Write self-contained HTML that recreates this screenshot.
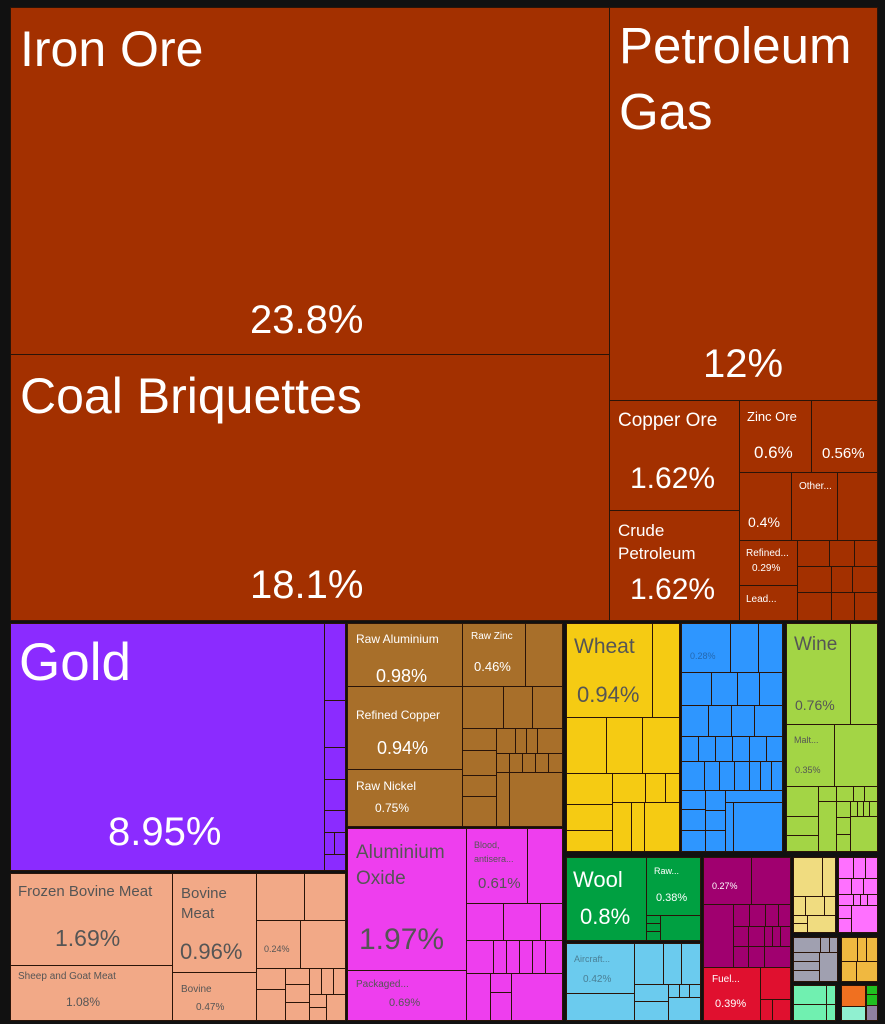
<!DOCTYPE html>
<html><head><meta charset="utf-8"><style>
body{margin:0;width:885px;height:1024px;background:#111;overflow:hidden;font-family:"Liberation Sans",sans-serif}
.r{position:absolute;box-sizing:border-box;border:1px solid #2a1408}
.t{position:absolute;white-space:nowrap;line-height:1}
.w{color:#fff}.g{color:#555}
</style></head><body>
<!-- top brown -->
<div class="r" style="left:10px;top:7px;width:600px;height:348px;background:#A33000"></div>
<div class="t w" style="left:20px;top:24px;font-size:50px">Iron Ore</div>
<div class="t w" style="left:250px;top:300px;font-size:40px">23.8%</div>
<div class="r" style="left:10px;top:354px;width:600px;height:267px;background:#A33000"></div>
<div class="t w" style="left:20px;top:371px;font-size:50px">Coal Briquettes</div>
<div class="t w" style="left:250px;top:565px;font-size:40px">18.1%</div>
<div class="r" style="left:609px;top:7px;width:269px;height:394px;background:#A33000"></div>
<div class="t w" style="left:619px;top:13px;font-size:51px;line-height:66px">Petroleum<br>Gas</div>
<div class="t w" style="left:703px;top:344px;font-size:40px">12%</div>
<div class="r" style="left:609px;top:400px;width:131px;height:111px;background:#A33000"></div>
<div class="t w" style="left:618px;top:411px;font-size:19px">Copper Ore</div>
<div class="t w" style="left:630px;top:464px;font-size:30px">1.62%</div>
<div class="r" style="left:609px;top:510px;width:131px;height:111px;background:#A33000"></div>
<div class="t w" style="left:618px;top:519px;font-size:17px;line-height:23px">Crude<br>Petroleum</div>
<div class="t w" style="left:630px;top:575px;font-size:30px">1.62%</div>
<div class="r" style="left:739px;top:400px;width:73px;height:73px;background:#A33000"></div>
<div class="t w" style="left:747px;top:410px;font-size:13px">Zinc Ore</div>
<div class="t w" style="left:754px;top:444px;font-size:17px">0.6%</div>
<div class="r" style="left:811px;top:400px;width:67px;height:73px;background:#A33000"></div>
<div class="t w" style="left:822px;top:446px;font-size:15px">0.56%</div>
<div class="r" style="left:739px;top:472px;width:53px;height:69px;background:#A33000"></div>
<div class="t w" style="left:748px;top:515px;font-size:14px">0.4%</div>
<div class="r" style="left:791px;top:472px;width:47px;height:69px;background:#A33000"></div>
<div class="t w" style="left:799px;top:482px;font-size:10px">Other...</div>
<div class="r" style="left:837px;top:472px;width:41px;height:69px;background:#A33000"></div>
<div class="r" style="left:739px;top:540px;width:59px;height:46px;background:#A33000"></div>
<div class="t w" style="left:746px;top:549px;font-size:10px">Refined...</div>
<div class="t w" style="left:752px;top:564px;font-size:10px">0.29%</div>
<div class="r" style="left:739px;top:585px;width:59px;height:36px;background:#A33000"></div>
<div class="t w" style="left:746px;top:595px;font-size:10px">Lead...</div>
<div class="r" style="left:797px;top:540px;width:33px;height:27px;background:#A33000"></div>
<div class="r" style="left:829px;top:540px;width:26px;height:27px;background:#A33000"></div>
<div class="r" style="left:854px;top:540px;width:24px;height:27px;background:#A33000"></div>
<div class="r" style="left:797px;top:566px;width:35px;height:27px;background:#A33000"></div>
<div class="r" style="left:831px;top:566px;width:22px;height:27px;background:#A33000"></div>
<div class="r" style="left:852px;top:566px;width:26px;height:27px;background:#A33000"></div>
<div class="r" style="left:797px;top:592px;width:35px;height:29px;background:#A33000"></div>
<div class="r" style="left:831px;top:592px;width:24px;height:29px;background:#A33000"></div>
<div class="r" style="left:854px;top:592px;width:24px;height:29px;background:#A33000"></div>
<!-- Gold -->
<div class="r" style="left:10px;top:623px;width:315px;height:248px;background:#8B2BFF"></div>
<div class="t w" style="left:19px;top:636px;font-size:53px">Gold</div>
<div class="t w" style="left:108px;top:812px;font-size:40px">8.95%</div>
<div class="r" style="left:324px;top:623px;width:22px;height:78px;background:#8B2BFF"></div>
<div class="r" style="left:324px;top:700px;width:22px;height:48px;background:#8B2BFF"></div>
<div class="r" style="left:324px;top:747px;width:22px;height:33px;background:#8B2BFF"></div>
<div class="r" style="left:324px;top:779px;width:22px;height:32px;background:#8B2BFF"></div>
<div class="r" style="left:324px;top:810px;width:22px;height:23px;background:#8B2BFF"></div>
<div class="r" style="left:324px;top:832px;width:11px;height:23px;background:#8B2BFF"></div>
<div class="r" style="left:334px;top:832px;width:12px;height:23px;background:#8B2BFF"></div>
<div class="r" style="left:324px;top:854px;width:22px;height:17px;background:#8B2BFF"></div>
<!-- Peach -->
<div class="r" style="left:10px;top:873px;width:163px;height:93px;background:#F2A987"></div>
<div class="t g" style="left:18px;top:884px;font-size:15px">Frozen Bovine Meat</div>
<div class="t g" style="left:55px;top:927px;font-size:23px">1.69%</div>
<div class="r" style="left:10px;top:965px;width:163px;height:56px;background:#F2A987"></div>
<div class="t g" style="left:18px;top:972px;font-size:10px">Sheep and Goat Meat</div>
<div class="t g" style="left:66px;top:996px;font-size:12px">1.08%</div>
<div class="r" style="left:172px;top:873px;width:85px;height:100px;background:#F2A987"></div>
<div class="t g" style="left:181px;top:884px;font-size:15px;line-height:20px">Bovine<br>Meat</div>
<div class="t g" style="left:180px;top:941px;font-size:22px">0.96%</div>
<div class="r" style="left:172px;top:972px;width:85px;height:49px;background:#F2A987"></div>
<div class="t g" style="left:181px;top:985px;font-size:10px">Bovine</div>
<div class="t g" style="left:196px;top:1003px;font-size:10px">0.47%</div>
<div class="r" style="left:256px;top:873px;width:49px;height:48px;background:#F2A987"></div>
<div class="r" style="left:304px;top:873px;width:42px;height:48px;background:#F2A987"></div>
<div class="r" style="left:256px;top:920px;width:45px;height:49px;background:#F2A987"></div>
<div class="t g" style="left:264px;top:945px;font-size:9px">0.24%</div>
<div class="r" style="left:300px;top:920px;width:46px;height:49px;background:#F2A987"></div>
<div class="r" style="left:256px;top:968px;width:30px;height:22px;background:#F2A987"></div>
<div class="r" style="left:256px;top:989px;width:30px;height:32px;background:#F2A987"></div>
<div class="r" style="left:285px;top:968px;width:25px;height:17px;background:#F2A987"></div>
<div class="r" style="left:285px;top:984px;width:25px;height:19px;background:#F2A987"></div>
<div class="r" style="left:285px;top:1002px;width:25px;height:19px;background:#F2A987"></div>
<div class="r" style="left:309px;top:968px;width:13px;height:27px;background:#F2A987"></div>
<div class="r" style="left:321px;top:968px;width:13px;height:27px;background:#F2A987"></div>
<div class="r" style="left:333px;top:968px;width:13px;height:27px;background:#F2A987"></div>
<div class="r" style="left:309px;top:994px;width:18px;height:14px;background:#F2A987"></div>
<div class="r" style="left:309px;top:1007px;width:18px;height:14px;background:#F2A987"></div>
<div class="r" style="left:326px;top:994px;width:20px;height:27px;background:#F2A987"></div>
<!-- Brown metals -->
<div class="r" style="left:347px;top:623px;width:116px;height:64px;background:#A86F2A"></div>
<div class="t w" style="left:356px;top:633px;font-size:12px">Raw Aluminium</div>
<div class="t w" style="left:376px;top:667px;font-size:18px">0.98%</div>
<div class="r" style="left:347px;top:686px;width:116px;height:84px;background:#A86F2A"></div>
<div class="t w" style="left:356px;top:709px;font-size:12px">Refined Copper</div>
<div class="t w" style="left:377px;top:739px;font-size:18px">0.94%</div>
<div class="r" style="left:347px;top:769px;width:116px;height:58px;background:#A86F2A"></div>
<div class="t w" style="left:356px;top:780px;font-size:12px">Raw Nickel</div>
<div class="t w" style="left:375px;top:802px;font-size:12px">0.75%</div>
<div class="r" style="left:462px;top:623px;width:64px;height:64px;background:#A86F2A"></div>
<div class="t w" style="left:471px;top:632px;font-size:10px">Raw Zinc</div>
<div class="t w" style="left:474px;top:660px;font-size:13px">0.46%</div>
<div class="r" style="left:525px;top:623px;width:38px;height:64px;background:#A86F2A"></div>
<div class="r" style="left:462px;top:686px;width:42px;height:43px;background:#A86F2A"></div>
<div class="r" style="left:503px;top:686px;width:30px;height:43px;background:#A86F2A"></div>
<div class="r" style="left:532px;top:686px;width:31px;height:43px;background:#A86F2A"></div>
<div class="r" style="left:462px;top:728px;width:35px;height:23px;background:#A86F2A"></div>
<div class="r" style="left:462px;top:750px;width:35px;height:26px;background:#A86F2A"></div>
<div class="r" style="left:462px;top:775px;width:35px;height:22px;background:#A86F2A"></div>
<div class="r" style="left:462px;top:796px;width:35px;height:31px;background:#A86F2A"></div>
<div class="r" style="left:496px;top:728px;width:20px;height:26px;background:#A86F2A"></div>
<div class="r" style="left:515px;top:728px;width:12px;height:26px;background:#A86F2A"></div>
<div class="r" style="left:526px;top:728px;width:12px;height:26px;background:#A86F2A"></div>
<div class="r" style="left:537px;top:728px;width:26px;height:26px;background:#A86F2A"></div>
<div class="r" style="left:496px;top:753px;width:14px;height:20px;background:#A86F2A"></div>
<div class="r" style="left:509px;top:753px;width:14px;height:20px;background:#A86F2A"></div>
<div class="r" style="left:522px;top:753px;width:14px;height:20px;background:#A86F2A"></div>
<div class="r" style="left:535px;top:753px;width:14px;height:20px;background:#A86F2A"></div>
<div class="r" style="left:548px;top:753px;width:15px;height:20px;background:#A86F2A"></div>
<div class="r" style="left:496px;top:772px;width:14px;height:55px;background:#A86F2A"></div>
<div class="r" style="left:509px;top:772px;width:54px;height:55px;background:#A86F2A"></div>
<!-- Magenta -->
<div class="r" style="left:347px;top:828px;width:120px;height:143px;background:#EE3EEE"></div>
<div class="t g" style="left:356px;top:840px;font-size:19px;line-height:26px">Aluminium<br>Oxide</div>
<div class="t g" style="left:359px;top:925px;font-size:30px">1.97%</div>
<div class="r" style="left:347px;top:970px;width:120px;height:51px;background:#EE3EEE"></div>
<div class="t g" style="left:356px;top:980px;font-size:10px">Packaged...</div>
<div class="t g" style="left:389px;top:998px;font-size:11px">0.69%</div>
<div class="r" style="left:466px;top:828px;width:62px;height:76px;background:#EE3EEE"></div>
<div class="t g" style="left:474px;top:838px;font-size:9px;line-height:14px">Blood,<br>antisera...</div>
<div class="t g" style="left:478px;top:876px;font-size:15px">0.61%</div>
<div class="r" style="left:527px;top:828px;width:36px;height:76px;background:#EE3EEE"></div>
<div class="r" style="left:466px;top:903px;width:38px;height:38px;background:#EE3EEE"></div>
<div class="r" style="left:503px;top:903px;width:38px;height:38px;background:#EE3EEE"></div>
<div class="r" style="left:540px;top:903px;width:23px;height:38px;background:#EE3EEE"></div>
<div class="r" style="left:466px;top:940px;width:28px;height:34px;background:#EE3EEE"></div>
<div class="r" style="left:493px;top:940px;width:14px;height:34px;background:#EE3EEE"></div>
<div class="r" style="left:506px;top:940px;width:14px;height:34px;background:#EE3EEE"></div>
<div class="r" style="left:519px;top:940px;width:14px;height:34px;background:#EE3EEE"></div>
<div class="r" style="left:532px;top:940px;width:14px;height:34px;background:#EE3EEE"></div>
<div class="r" style="left:545px;top:940px;width:18px;height:34px;background:#EE3EEE"></div>
<div class="r" style="left:466px;top:973px;width:25px;height:48px;background:#EE3EEE"></div>
<div class="r" style="left:490px;top:973px;width:22px;height:20px;background:#EE3EEE"></div>
<div class="r" style="left:490px;top:992px;width:22px;height:29px;background:#EE3EEE"></div>
<div class="r" style="left:511px;top:973px;width:52px;height:48px;background:#EE3EEE"></div>
<!-- Yellow -->
<div class="r" style="left:566px;top:623px;width:87px;height:95px;background:#F5CB13"></div>
<div class="t g" style="left:574px;top:636px;font-size:21px">Wheat</div>
<div class="t g" style="left:577px;top:684px;font-size:22px">0.94%</div>
<div class="r" style="left:652px;top:623px;width:28px;height:95px;background:#F5CB13"></div>
<div class="r" style="left:566px;top:717px;width:41px;height:57px;background:#F5CB13"></div>
<div class="r" style="left:606px;top:717px;width:37px;height:57px;background:#F5CB13"></div>
<div class="r" style="left:642px;top:717px;width:38px;height:57px;background:#F5CB13"></div>
<div class="r" style="left:566px;top:773px;width:47px;height:32px;background:#F5CB13"></div>
<div class="r" style="left:566px;top:804px;width:47px;height:27px;background:#F5CB13"></div>
<div class="r" style="left:566px;top:830px;width:47px;height:22px;background:#F5CB13"></div>
<div class="r" style="left:612px;top:773px;width:34px;height:30px;background:#F5CB13"></div>
<div class="r" style="left:645px;top:773px;width:21px;height:30px;background:#F5CB13"></div>
<div class="r" style="left:665px;top:773px;width:15px;height:30px;background:#F5CB13"></div>
<div class="r" style="left:612px;top:802px;width:20px;height:50px;background:#F5CB13"></div>
<div class="r" style="left:631px;top:802px;width:14px;height:50px;background:#F5CB13"></div>
<div class="r" style="left:644px;top:802px;width:36px;height:50px;background:#F5CB13"></div>
<!-- Blue -->
<div class="r" style="left:681px;top:623px;width:50px;height:50px;background:#2E96FF"></div>
<div class="t" style="left:690px;top:652px;font-size:9px;color:#2468b0">0.28%</div>
<div class="r" style="left:730px;top:623px;width:29px;height:50px;background:#2E96FF"></div>
<div class="r" style="left:758px;top:623px;width:25px;height:50px;background:#2E96FF"></div>
<div class="r" style="left:681px;top:672px;width:31px;height:34px;background:#2E96FF"></div>
<div class="r" style="left:711px;top:672px;width:27px;height:34px;background:#2E96FF"></div>
<div class="r" style="left:737px;top:672px;width:23px;height:34px;background:#2E96FF"></div>
<div class="r" style="left:759px;top:672px;width:24px;height:34px;background:#2E96FF"></div>
<div class="r" style="left:681px;top:705px;width:28px;height:32px;background:#2E96FF"></div>
<div class="r" style="left:708px;top:705px;width:24px;height:32px;background:#2E96FF"></div>
<div class="r" style="left:731px;top:705px;width:24px;height:32px;background:#2E96FF"></div>
<div class="r" style="left:754px;top:705px;width:29px;height:32px;background:#2E96FF"></div>
<div class="r" style="left:681px;top:736px;width:18px;height:26px;background:#2E96FF"></div>
<div class="r" style="left:698px;top:736px;width:18px;height:26px;background:#2E96FF"></div>
<div class="r" style="left:715px;top:736px;width:18px;height:26px;background:#2E96FF"></div>
<div class="r" style="left:732px;top:736px;width:18px;height:26px;background:#2E96FF"></div>
<div class="r" style="left:749px;top:736px;width:18px;height:26px;background:#2E96FF"></div>
<div class="r" style="left:766px;top:736px;width:17px;height:26px;background:#2E96FF"></div>
<div class="r" style="left:681px;top:761px;width:24px;height:30px;background:#2E96FF"></div>
<div class="r" style="left:704px;top:761px;width:16px;height:30px;background:#2E96FF"></div>
<div class="r" style="left:719px;top:761px;width:16px;height:30px;background:#2E96FF"></div>
<div class="r" style="left:734px;top:761px;width:16px;height:30px;background:#2E96FF"></div>
<div class="r" style="left:749px;top:761px;width:12px;height:30px;background:#2E96FF"></div>
<div class="r" style="left:760px;top:761px;width:12px;height:30px;background:#2E96FF"></div>
<div class="r" style="left:771px;top:761px;width:12px;height:30px;background:#2E96FF"></div>
<div class="r" style="left:681px;top:790px;width:25px;height:20px;background:#2E96FF"></div>
<div class="r" style="left:681px;top:809px;width:25px;height:22px;background:#2E96FF"></div>
<div class="r" style="left:681px;top:830px;width:25px;height:22px;background:#2E96FF"></div>
<div class="r" style="left:705px;top:790px;width:21px;height:21px;background:#2E96FF"></div>
<div class="r" style="left:705px;top:810px;width:21px;height:21px;background:#2E96FF"></div>
<div class="r" style="left:705px;top:830px;width:21px;height:22px;background:#2E96FF"></div>
<div class="r" style="left:725px;top:790px;width:58px;height:13px;background:#2E96FF"></div>
<div class="r" style="left:725px;top:802px;width:9px;height:50px;background:#2E96FF"></div>
<div class="r" style="left:733px;top:802px;width:50px;height:50px;background:#2E96FF"></div>
<!-- Light green -->
<div class="r" style="left:786px;top:623px;width:65px;height:102px;background:#A3D545"></div>
<div class="t g" style="left:794px;top:635px;font-size:19px">Wine</div>
<div class="t g" style="left:795px;top:698px;font-size:14px">0.76%</div>
<div class="r" style="left:850px;top:623px;width:28px;height:102px;background:#A3D545"></div>
<div class="r" style="left:786px;top:724px;width:49px;height:63px;background:#A3D545"></div>
<div class="t g" style="left:794px;top:736px;font-size:9px">Malt...</div>
<div class="t g" style="left:795px;top:766px;font-size:9px">0.35%</div>
<div class="r" style="left:834px;top:724px;width:44px;height:63px;background:#A3D545"></div>
<div class="r" style="left:786px;top:786px;width:33px;height:31px;background:#A3D545"></div>
<div class="r" style="left:786px;top:816px;width:33px;height:20px;background:#A3D545"></div>
<div class="r" style="left:786px;top:835px;width:33px;height:17px;background:#A3D545"></div>
<div class="r" style="left:818px;top:786px;width:19px;height:16px;background:#A3D545"></div>
<div class="r" style="left:818px;top:801px;width:19px;height:51px;background:#A3D545"></div>
<div class="r" style="left:836px;top:786px;width:18px;height:16px;background:#A3D545"></div>
<div class="r" style="left:853px;top:786px;width:12px;height:16px;background:#A3D545"></div>
<div class="r" style="left:864px;top:786px;width:14px;height:16px;background:#A3D545"></div>
<div class="r" style="left:836px;top:801px;width:15px;height:17px;background:#A3D545"></div>
<div class="r" style="left:836px;top:817px;width:15px;height:18px;background:#A3D545"></div>
<div class="r" style="left:836px;top:834px;width:15px;height:18px;background:#A3D545"></div>
<div class="r" style="left:850px;top:801px;width:8px;height:16px;background:#A3D545"></div>
<div class="r" style="left:857px;top:801px;width:7px;height:16px;background:#A3D545"></div>
<div class="r" style="left:863px;top:801px;width:7px;height:16px;background:#A3D545"></div>
<div class="r" style="left:869px;top:801px;width:9px;height:16px;background:#A3D545"></div>
<div class="r" style="left:850px;top:816px;width:28px;height:36px;background:#A3D545"></div>
<!-- Green -->
<div class="r" style="left:566px;top:857px;width:81px;height:84px;background:#00A041"></div>
<div class="t w" style="left:573px;top:869px;font-size:22px">Wool</div>
<div class="t w" style="left:580px;top:906px;font-size:22px">0.8%</div>
<div class="r" style="left:646px;top:857px;width:55px;height:59px;background:#00A041"></div>
<div class="t w" style="left:654px;top:867px;font-size:9px">Raw...</div>
<div class="t w" style="left:656px;top:893px;font-size:11px">0.38%</div>
<div class="r" style="left:646px;top:915px;width:15px;height:9px;background:#00A041"></div>
<div class="r" style="left:646px;top:923px;width:15px;height:9px;background:#00A041"></div>
<div class="r" style="left:646px;top:931px;width:15px;height:10px;background:#00A041"></div>
<div class="r" style="left:660px;top:915px;width:41px;height:26px;background:#00A041"></div>
<!-- Light blue -->
<div class="r" style="left:566px;top:943px;width:69px;height:51px;background:#6BCBEE"></div>
<div class="t" style="left:574px;top:955px;font-size:9px;color:#4a7f95">Aircraft...</div>
<div class="t" style="left:583px;top:975px;font-size:10px;color:#4a7f95">0.42%</div>
<div class="r" style="left:566px;top:993px;width:69px;height:28px;background:#6BCBEE"></div>
<div class="r" style="left:634px;top:943px;width:30px;height:42px;background:#6BCBEE"></div>
<div class="r" style="left:663px;top:943px;width:19px;height:42px;background:#6BCBEE"></div>
<div class="r" style="left:681px;top:943px;width:20px;height:42px;background:#6BCBEE"></div>
<div class="r" style="left:634px;top:984px;width:35px;height:18px;background:#6BCBEE"></div>
<div class="r" style="left:634px;top:1001px;width:35px;height:20px;background:#6BCBEE"></div>
<div class="r" style="left:668px;top:984px;width:12px;height:14px;background:#6BCBEE"></div>
<div class="r" style="left:679px;top:984px;width:11px;height:14px;background:#6BCBEE"></div>
<div class="r" style="left:689px;top:984px;width:12px;height:14px;background:#6BCBEE"></div>
<div class="r" style="left:668px;top:997px;width:33px;height:24px;background:#6BCBEE"></div>
<!-- dark magenta -->
<div class="r" style="left:703px;top:857px;width:49px;height:48px;background:#A0006F"></div>
<div class="t w" style="left:712px;top:882px;font-size:9px">0.27%</div>
<div class="r" style="left:751px;top:857px;width:40px;height:48px;background:#A0006F"></div>
<div class="r" style="left:703px;top:904px;width:31px;height:64px;background:#A0006F"></div>
<div class="r" style="left:733px;top:904px;width:17px;height:23px;background:#A0006F"></div>
<div class="r" style="left:749px;top:904px;width:17px;height:23px;background:#A0006F"></div>
<div class="r" style="left:765px;top:904px;width:14px;height:23px;background:#A0006F"></div>
<div class="r" style="left:778px;top:904px;width:13px;height:23px;background:#A0006F"></div>
<div class="r" style="left:733px;top:926px;width:16px;height:21px;background:#A0006F"></div>
<div class="r" style="left:748px;top:926px;width:17px;height:21px;background:#A0006F"></div>
<div class="r" style="left:764px;top:926px;width:9px;height:21px;background:#A0006F"></div>
<div class="r" style="left:772px;top:926px;width:9px;height:21px;background:#A0006F"></div>
<div class="r" style="left:780px;top:926px;width:11px;height:21px;background:#A0006F"></div>
<div class="r" style="left:733px;top:946px;width:16px;height:22px;background:#A0006F"></div>
<div class="r" style="left:748px;top:946px;width:17px;height:22px;background:#A0006F"></div>
<div class="r" style="left:764px;top:946px;width:27px;height:22px;background:#A0006F"></div>
<!-- red -->
<div class="r" style="left:703px;top:967px;width:58px;height:54px;background:#E0102F"></div>
<div class="t w" style="left:712px;top:975px;font-size:10px">Fuel...</div>
<div class="t w" style="left:715px;top:999px;font-size:11px">0.39%</div>
<div class="r" style="left:760px;top:967px;width:31px;height:33px;background:#E0102F"></div>
<div class="r" style="left:760px;top:999px;width:13px;height:22px;background:#E0102F"></div>
<div class="r" style="left:772px;top:999px;width:19px;height:22px;background:#E0102F"></div>
<!-- bottom right small -->
<div class="r" style="left:793px;top:857px;width:30px;height:40px;background:#F0DC80"></div>
<div class="r" style="left:822px;top:857px;width:14px;height:40px;background:#F0DC80"></div>
<div class="r" style="left:793px;top:896px;width:13px;height:20px;background:#F0DC80"></div>
<div class="r" style="left:805px;top:896px;width:20px;height:20px;background:#F0DC80"></div>
<div class="r" style="left:824px;top:896px;width:12px;height:20px;background:#F0DC80"></div>
<div class="r" style="left:793px;top:915px;width:15px;height:9px;background:#F0DC80"></div>
<div class="r" style="left:793px;top:923px;width:15px;height:10px;background:#F0DC80"></div>
<div class="r" style="left:807px;top:915px;width:29px;height:18px;background:#F0DC80"></div>
<div class="r" style="left:838px;top:857px;width:16px;height:22px;background:#FF70FF"></div>
<div class="r" style="left:853px;top:857px;width:13px;height:22px;background:#FF70FF"></div>
<div class="r" style="left:865px;top:857px;width:13px;height:22px;background:#FF70FF"></div>
<div class="r" style="left:838px;top:878px;width:14px;height:17px;background:#FF70FF"></div>
<div class="r" style="left:851px;top:878px;width:13px;height:17px;background:#FF70FF"></div>
<div class="r" style="left:863px;top:878px;width:15px;height:17px;background:#FF70FF"></div>
<div class="r" style="left:838px;top:894px;width:16px;height:12px;background:#FF70FF"></div>
<div class="r" style="left:853px;top:894px;width:8px;height:12px;background:#FF70FF"></div>
<div class="r" style="left:860px;top:894px;width:8px;height:12px;background:#FF70FF"></div>
<div class="r" style="left:867px;top:894px;width:11px;height:12px;background:#FF70FF"></div>
<div class="r" style="left:838px;top:905px;width:14px;height:14px;background:#FF70FF"></div>
<div class="r" style="left:838px;top:918px;width:14px;height:15px;background:#FF70FF"></div>
<div class="r" style="left:851px;top:905px;width:27px;height:28px;background:#FF70FF"></div>
<div class="r" style="left:793px;top:937px;width:28px;height:16px;background:#A0A0B0"></div>
<div class="r" style="left:820px;top:937px;width:10px;height:16px;background:#A0A0B0"></div>
<div class="r" style="left:829px;top:937px;width:9px;height:16px;background:#A0A0B0"></div>
<div class="r" style="left:793px;top:952px;width:27px;height:10px;background:#A0A0B0"></div>
<div class="r" style="left:793px;top:961px;width:27px;height:10px;background:#A0A0B0"></div>
<div class="r" style="left:793px;top:970px;width:27px;height:12px;background:#A0A0B0"></div>
<div class="r" style="left:819px;top:952px;width:19px;height:30px;background:#A0A0B0"></div>
<div class="r" style="left:841px;top:937px;width:17px;height:25px;background:#F0B840"></div>
<div class="r" style="left:857px;top:937px;width:10px;height:25px;background:#F0B840"></div>
<div class="r" style="left:866px;top:937px;width:12px;height:25px;background:#F0B840"></div>
<div class="r" style="left:841px;top:961px;width:16px;height:21px;background:#F0B840"></div>
<div class="r" style="left:856px;top:961px;width:22px;height:21px;background:#F0B840"></div>
<div class="r" style="left:793px;top:985px;width:34px;height:20px;background:#70F0B0"></div>
<div class="r" style="left:826px;top:985px;width:10px;height:20px;background:#70F0B0"></div>
<div class="r" style="left:793px;top:1004px;width:34px;height:17px;background:#70F0B0"></div>
<div class="r" style="left:826px;top:1004px;width:10px;height:17px;background:#70F0B0"></div>
<div class="r" style="left:841px;top:985px;width:25px;height:22px;background:#F07020"></div>
<div class="r" style="left:841px;top:1006px;width:25px;height:15px;background:#90F0D0"></div>
<div class="r" style="left:866px;top:985px;width:12px;height:10px;background:#20C020"></div>
<div class="r" style="left:866px;top:994px;width:12px;height:12px;background:#20C020"></div>
<div class="r" style="left:866px;top:1005px;width:12px;height:16px;background:#9080A0"></div>
</body></html>
